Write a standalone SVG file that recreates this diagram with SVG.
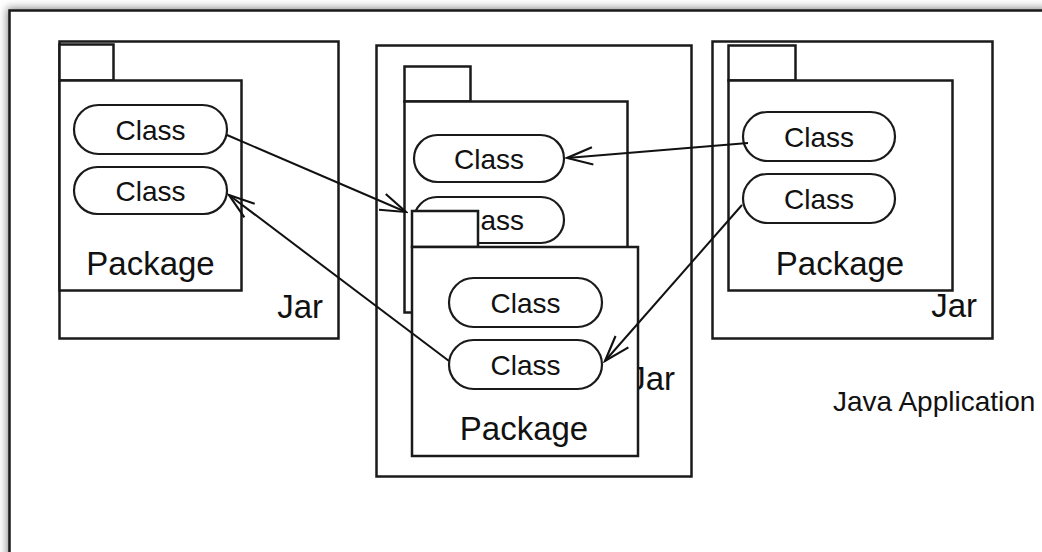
<svg xmlns="http://www.w3.org/2000/svg" width="1042" height="552" viewBox="0 0 1042 552">
<defs>
<style>
.box{fill:#fff;stroke:#1a1a1a;stroke-width:2.5}
.pill{fill:#fff;stroke:#1a1a1a;stroke-width:2.2}
.t{font-family:"Liberation Sans",Arial,Helvetica,sans-serif;fill:#111}
.cls{font-size:28px;text-anchor:middle}
.pkg{font-size:33px;text-anchor:middle}
.jar{font-size:33px;text-anchor:end}
.conn{fill:none;stroke:#111;stroke-width:2;marker-end:url(#arr)}
</style>
<marker id="arr" markerUnits="userSpaceOnUse" markerWidth="30" markerHeight="30" viewBox="-26 -10 28 20" refX="0" refY="0" orient="auto">
<path d="M-24,-8 L0,0 L-24,8" fill="none" stroke="#111" stroke-width="2"/>
</marker>
<filter id="sh" x="-5%" y="-5%" width="110%" height="110%">
<feGaussianBlur stdDeviation="4"/>
</filter>
</defs>
<rect x="0" y="0" width="1042" height="552" fill="#fff"/>
<rect x="7" y="8" width="1100" height="600" fill="#888" filter="url(#sh)"/>
<g id="frame">
<rect x="9.5" y="10.5" width="1100" height="600" class="box"/>
<text class="t" x="833" y="411" font-size="28">Java Application</text>
</g>
<g id="jar-left">
<rect x="59.5" y="41.5" width="279" height="297" class="box"/>
<text class="t jar" x="323" y="318">Jar</text>
<g id="pkg-left">
<rect x="59.5" y="44.5" width="54" height="36" class="box"/>
<rect x="59.5" y="80.5" width="182" height="210" class="box"/>
<text class="t pkg" x="150.5" y="275">Package</text>
<g id="class-l1"><rect x="74" y="105" width="153" height="49" rx="24.5" class="pill"/><text class="t cls" x="150.5" y="139.5">Class</text></g>
<g id="class-l2"><rect x="74" y="167" width="153" height="47" rx="23.5" class="pill"/><text class="t cls" x="150.5" y="200.5">Class</text></g>
</g>
</g>
<g id="jar-middle">
<rect x="376.5" y="45.5" width="315" height="431" class="box"/>
<text class="t jar" x="675" y="390">Jar</text>
<g id="pkg-back">
<rect x="404.5" y="66.5" width="66" height="35" class="box"/>
<rect x="404.5" y="101.5" width="223" height="211" class="box"/>
<g id="class-b1"><rect x="414" y="135" width="150" height="47" rx="23.5" class="pill"/><text class="t cls" x="489" y="168.5">Class</text></g>
<g id="class-b2"><rect x="414" y="197" width="150" height="46" rx="23" class="pill"/><text class="t cls" x="489" y="230">Class</text></g>
</g>
<g id="pkg-front">
<rect x="412" y="211" width="66" height="36" class="box"/>
<rect x="412" y="247" width="226" height="209" class="box"/>
<text class="t pkg" x="524" y="440">Package</text>
<g id="class-f1"><rect x="449" y="278" width="153" height="49" rx="24.5" class="pill"/><text class="t cls" x="525.5" y="312.5">Class</text></g>
<g id="class-f2"><rect x="449" y="340" width="153" height="49" rx="24.5" class="pill"/><text class="t cls" x="525.5" y="374.5">Class</text></g>
</g>
</g>
<g id="jar-right">
<rect x="712.5" y="41.5" width="280" height="297" class="box"/>
<text class="t jar" x="977" y="317">Jar</text>
<g id="pkg-right">
<rect x="728.5" y="45.5" width="67" height="35" class="box"/>
<rect x="728.5" y="80.5" width="224" height="210" class="box"/>
<text class="t pkg" x="840" y="275">Package</text>
<g id="class-r1"><rect x="743" y="112" width="152" height="49" rx="24.5" class="pill"/><text class="t cls" x="819" y="146.5">Class</text></g>
<g id="class-r2"><rect x="743" y="174" width="152" height="49" rx="24.5" class="pill"/><text class="t cls" x="819" y="208.5">Class</text></g>
</g>
</g>
<g id="connectors">
<path class="conn" d="M227,135 L406,212"/>
<path class="conn" d="M748,143 L567,158"/>
<path class="conn" d="M742,205 L605,361"/>
<path class="conn" d="M449,361 L229,195"/>
</g>
</svg>
